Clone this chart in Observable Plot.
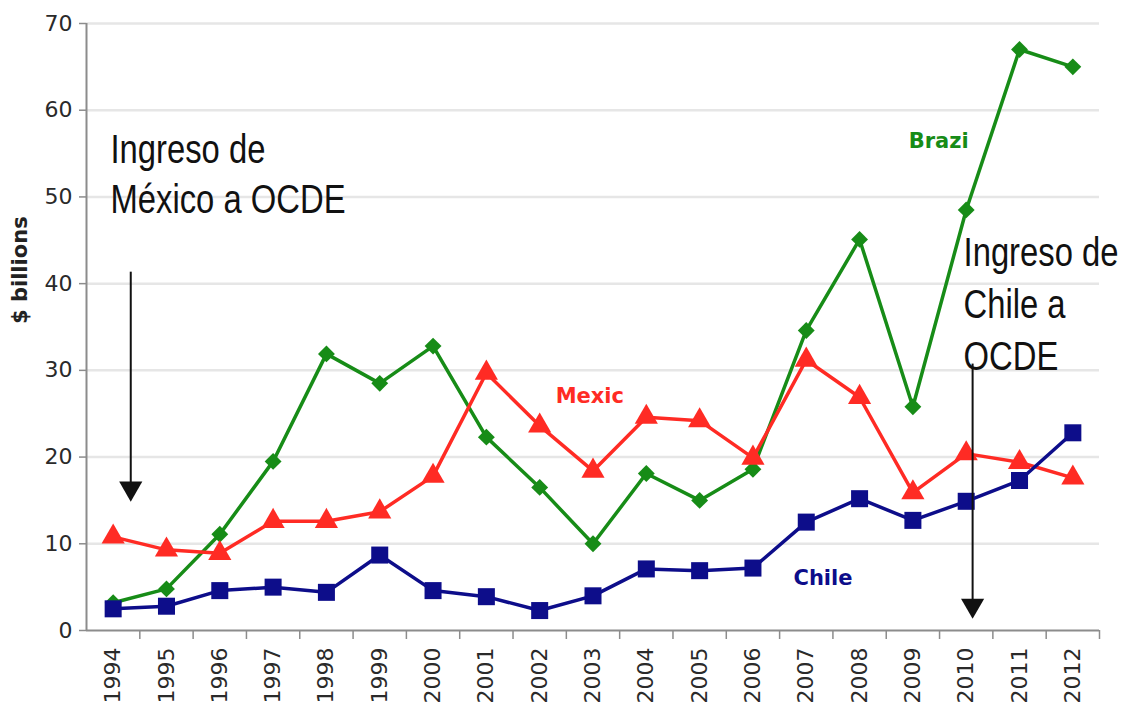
<!DOCTYPE html>
<html><head><meta charset="utf-8">
<script src="https://cdn.jsdelivr.net/npm/d3@7"></script>
<script src="https://cdn.jsdelivr.net/npm/@observablehq/plot@0.6"></script>
<style>body{margin:0;background:#fff}</style>
</head><body><div id="chart"></div>
<script>
const years = [1994,1995,1996,1997,1998,1999,2000,2001,2002,2003,2004,2005,2006,2007,2008,2009,2010,2011,2012];
const brazil = [3.2,4.8,11.1,19.5,31.9,28.5,32.8,22.3,16.5,10.0,18.1,15.0,18.6,34.6,45.1,25.8,48.5,67.0,65.0];
const mexico = [10.8,9.3,8.9,12.6,12.6,13.7,17.8,29.7,23.6,18.4,24.6,24.2,19.9,31.2,26.9,15.9,20.4,19.4,17.6];
const chile  = [2.5,2.8,4.6,5.0,4.4,8.7,4.6,3.9,2.3,4.0,7.1,6.9,7.2,12.5,15.2,12.7,14.9,17.3,22.8];

const seriesNames = ["Brazil","Mexico","Chile"];
const seriesValues = [brazil, mexico, chile];
const seriesColors = ["#178c17","#ff2b24","#0d0d8a"];
const seriesSymbols = ["diamond2","triangle","square"];
const seriesDotR = [7.6, 8.6, 9.6];
const seriesLabelText = ["Brazi","Mexic","Chile"];
const seriesLabelX = [2008.92, 2002.3, 2006.76];
const seriesLabelY = [55.6, 26.2, 5.2];

const yTicks = [0,10,20,30,40,50,60,70];
const gridTicks = [10,20,30,40,50,60,70];

const annotationText = ["Ingreso de\nMéxico a OCDE", "Ingreso de\nChile a\nOCDE"];
const annotationX = [1993.95, 2009.95];
const annotationY = [48.1, 30.0];
const arrowX = [1994.33, 2010.12];
const arrowTop = [40.4, 29.8];
const arrowTip = [15.2, 1.7];

const yLabel = "$ billions";

// tables built from the arrays
const rows = seriesNames.flatMap((s, k) => years.map((yr, i) => ({series: s, year: yr, value: seriesValues[k][i]})));
const labels = seriesNames.map((s, k) => ({series: s, text: seriesLabelText[k], x: seriesLabelX[k], y: seriesLabelY[k]}));
const arrows = arrowX.map((x, i) => ({x, top: arrowTop[i], tip: arrowTip[i]}));
const boundaries = years.map(y => y + 0.5);
const xMin = years[0] - 0.5, xMax = years[years.length - 1] + 0.5;

const font = "DejaVu Sans";
const axisColor = "#8c8c8c";
const narrowFont = "Liberation Sans";

const chart = Plot.plot({
  width: 1128, height: 708,
  marginLeft: 86, marginRight: 29, marginTop: 23, marginBottom: 78,
  style: {fontFamily: font, background: "#fff"},
  x: {domain: [xMin, xMax]},
  y: {domain: [0, 70]},
  color: {domain: seriesNames, range: seriesColors},
  marks: [
    Plot.gridY(gridTicks, {stroke: "#e6e6e6", strokeWidth: 2.5, strokeOpacity: 1}),
    Plot.axisY(yTicks, {tickSize: 7, tickPadding: 7, fontSize: 22, fill: "#2a2a2a", stroke: axisColor, strokeWidth: 1.5, tickFormat: d => String(d), label: null}),
    Plot.axisX(boundaries, {tickSize: 9, tickFormat: () => "", stroke: axisColor, strokeWidth: 1.5, label: null}),
    Plot.axisX(years, {tickSize: 0, tickPadding: 17, tickRotate: -90, fontSize: 22, fill: "#2a2a2a", tickFormat: d => String(d), label: null}),
    Plot.ruleX([xMin], {y1: 0, y2: 70, stroke: axisColor, strokeWidth: 2}),
    Plot.ruleY([0], {x1: xMin, x2: xMax, stroke: axisColor, strokeWidth: 2}),
    Plot.line(rows, {x: "year", y: "value", z: "series", stroke: "series", strokeWidth: 3.5, strokeLinejoin: "miter"}),
    ...seriesNames.map((s, k) => Plot.dot(rows.filter(d => d.series === s), {x: "year", y: "value", fill: "series", symbol: seriesSymbols[k], r: seriesDotR[k]})),
    Plot.text(labels, {x: "x", y: "y", text: "text", fill: "series", fontWeight: "bold", fontSize: 21, textAnchor: "start", lineAnchor: "bottom"}),
    Plot.text([annotationText[0]], {x: annotationX[0], y: annotationY[0], text: d => d, fontFamily: narrowFont, fontSize: 40, lineHeight: 1.25, textAnchor: "start", lineAnchor: "bottom", fill: "#111"}),
    Plot.text([annotationText[1]], {x: annotationX[1], y: annotationY[1], text: d => d, fontFamily: narrowFont, fontSize: 40, lineHeight: 1.31, textAnchor: "start", lineAnchor: "bottom", fill: "#111"}),
    Plot.ruleX(arrows, {x: "x", y1: "top", y2: "tip", dy: -8, stroke: "#111", strokeWidth: 2}),
    Plot.dot(arrows, {x: "x", y: "tip", symbol: "triangle", rotate: 180, r: 8.6, fill: "#111", dy: -10.4}),
    Plot.text([yLabel], {frameAnchor: "left", dx: -66, dy: -3, rotate: -90, text: d => d, fontWeight: "bold", fontSize: 21, fill: "#222"})
  ]
});
document.getElementById("chart").appendChild(chart);

// condense the annotation texts horizontally (narrow face look)
chart.querySelectorAll("text").forEach(t => {
  if (!t.textContent.startsWith("Ingreso")) return;
  const tr = t.getAttribute("transform");
  if (tr) {
    t.setAttribute("transform", tr + " scale(0.82,1)");
  } else {
    const x = +t.getAttribute("x") || 0, y = +t.getAttribute("y") || 0;
    t.setAttribute("transform", `translate(${x},${y}) scale(0.82,1) translate(${-x},${-y})`);
  }
});
</script>
</body></html>
